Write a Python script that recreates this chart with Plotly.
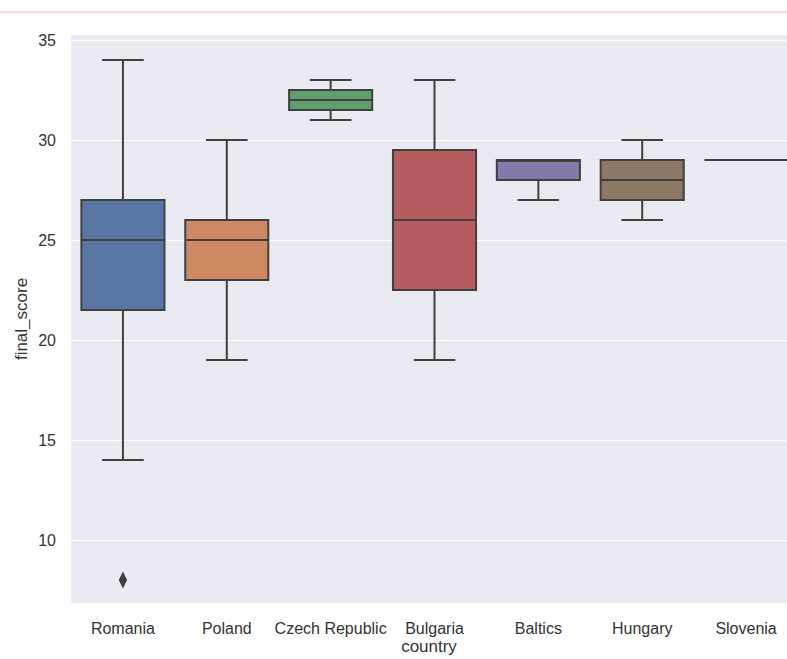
import plotly.graph_objects as go

# Per-country box statistics of final_score
countries = ["Romania", "Poland", "Czech Republic", "Bulgaria", "Baltics", "Hungary", "Slovenia"]
lower_whisker = [14, 19, 31, 19, 27, 26, 29]
q1 = [21.5, 23, 31.5, 22.5, 28, 27, 29]
median = [25, 25, 32, 26, 29, 28, 29]
q3 = [27, 26, 32.5, 29.5, 29, 29, 29]
upper_whisker = [34, 30, 33, 33, 29, 30, 29]

# Points beyond the whiskers
outlier_country = ["Romania"]
outlier_value = [8]

colors = ["#5975a4", "#cc8963", "#5f9e6e", "#b55d60", "#857aab", "#8d7866", "#d095bf"]
line_color = "#404040"

fig = go.Figure()
for i, c in enumerate(countries):
    fig.add_trace(go.Box(
        x=[c],
        q1=[q1[i]], median=[median[i]], q3=[q3[i]],
        lowerfence=[lower_whisker[i]], upperfence=[upper_whisker[i]],
        fillcolor=colors[i],
        line=dict(color=line_color, width=2),
        width=0.8,
        whiskerwidth=0.5,
        boxpoints=False,
        showlegend=False,
        name=c,
    ))

fig.add_trace(go.Scatter(
    x=outlier_country, y=outlier_value, mode="markers",
    marker=dict(symbol="diamond-tall", size=12, color=line_color),
    showlegend=False,
))

font_family = "Liberation Sans, Arial, sans-serif"
fig.update_layout(
    width=787, height=659,
    margin=dict(l=71, r=0, t=35, b=56),
    paper_bgcolor="white",
    plot_bgcolor="#eaeaf2",
    boxmode="overlay",
    font=dict(family=font_family, size=16, color="#333333"),
    xaxis=dict(
        type="category", categoryorder="array", categoryarray=countries,
        range=[-0.5, 6.394], showgrid=False, zeroline=False,
        ticks="", ticklabelstandoff=14,
        title=dict(text="country", standoff=0, font=dict(size=17)),
    ),
    yaxis=dict(
        range=[6.85, 35.25], tickvals=[10, 15, 20, 25, 30, 35],
        showgrid=True, gridcolor="white", gridwidth=1.3, zeroline=False,
        ticks="", ticklabelstandoff=14,
        title=dict(text="final_score", standoff=6, font=dict(size=17)),
    ),
    shapes=[dict(type="line", xref="paper", yref="paper",
                 x0=-0.2, x1=1.1, y0=1.04, y1=1.04,
                 line=dict(color="#f9d4d6", width=2))],
)

fig.write_html("out.html")
